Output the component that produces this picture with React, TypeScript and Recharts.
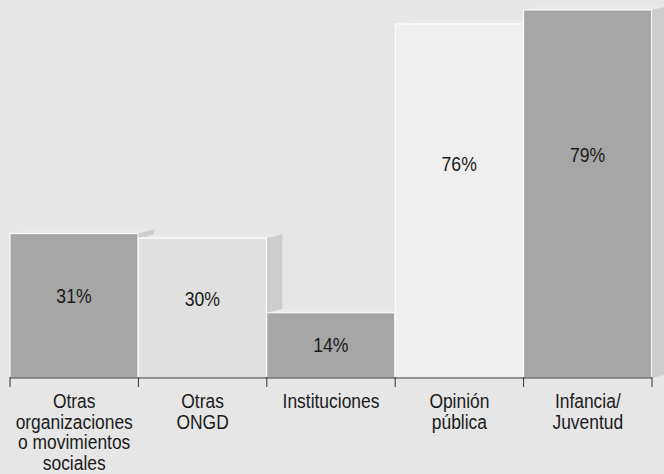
import { BarChart, Bar, XAxis, YAxis, Cell, LabelList } from 'recharts';

const categories = [
  'Otras\norganizaciones\no movimientos\nsociales',
  'Otras\nONGD',
  'Instituciones',
  'Opinión\npública',
  'Infancia/\nJuventud',
];
const values = [31, 30, 14, 76, 79];
const barColors = ['#a6a6a6', '#e0e0e0', '#a6a6a6', '#efefef', '#a6a6a6'];

const data = categories.map((name, i) => ({ name, value: values[i] }));

const W = 664;
const H = 474;
const MARGIN = { top: 10, right: 12, left: 10, bottom: 0 };
const BAND = (W - MARGIN.left - MARGIN.right) / categories.length;
const DX = 16;
const DY = 4;
// narrow look: Arial metrics squeezed horizontally
const FONT = "'Liberation Sans', Arial, sans-serif";

const Bar3D = (props: any) => {
  const { x, y, width, height, fill } = props;
  const side = `${x + width},${y} ${x + width + DX},${y - DY} ${x + width + DX},${y + height - DY} ${x + width},${y + height}`;
  const top = `${x},${y} ${x + DX},${y - DY} ${x + width + DX},${y - DY} ${x + width},${y}`;
  return (
    <g>
      <polygon points={top} fill="#e9e9e9" />
      <polygon points={side} fill="#cdcdcd" />
      <rect x={x} y={y} width={width} height={height} fill={fill} stroke="#ffffff" strokeWidth={1} />
    </g>
  );
};

const CategoryTick = (props: any) => {
  const { x, y, payload, index } = props;
  const lines = String(payload.value).split('\n');
  const isLast = index === categories.length - 1;
  return (
    <g>
      <line x1={x - BAND / 2} y1={y - 9} x2={x - BAND / 2} y2={y + 1} stroke="#333" />
      {isLast && <line x1={x + BAND / 2} y1={y - 9} x2={x + BAND / 2} y2={y + 1} stroke="#333" />}
      <text
        transform={`translate(${x},${y + 22}) scale(0.83,1)`}
        x={0}
        y={0}
        textAnchor="middle"
        fill="#1a1a1a"
        fontSize={21}
        fontFamily={FONT}
      >
        {lines.map((l, i) => (
          <tspan key={i} x={0} dy={i === 0 ? 0 : 20.7}>
            {l}
          </tspan>
        ))}
      </text>
    </g>
  );
};

const ValueLabel = (props: any) => {
  const { x, y, width, height, value } = props;
  const cy = y + height * 0.37 + 8;
  return (
    <text
      transform={`translate(${x + width / 2},${cy}) scale(0.84,1)`}
      x={0}
      y={0}
      textAnchor="middle"
      dominantBaseline="central"
      fill="#1a1a1a"
      fontSize={21}
      fontFamily={FONT}
    >
      {value}%
    </text>
  );
};

export default function App() {
  return (
    <div style={{ position: 'fixed', top: 0, left: 0, width: W, height: H, background: '#e6e6e6' }}>
      <BarChart width={W} height={H} data={data} margin={MARGIN} barCategoryGap={0}>
        <XAxis
          dataKey="name"
          height={96}
          interval={0}
          tickLine={false}
          axisLine={{ stroke: '#333' }}
          tick={<CategoryTick />}
        />
        <YAxis hide domain={[0, 79]} />
        <Bar dataKey="value" shape={<Bar3D />} isAnimationActive={false}>
          {data.map((d, i) => (
            <Cell key={d.name} fill={barColors[i]} />
          ))}
          <LabelList dataKey="value" content={<ValueLabel />} />
        </Bar>
      </BarChart>
    </div>
  );
}
